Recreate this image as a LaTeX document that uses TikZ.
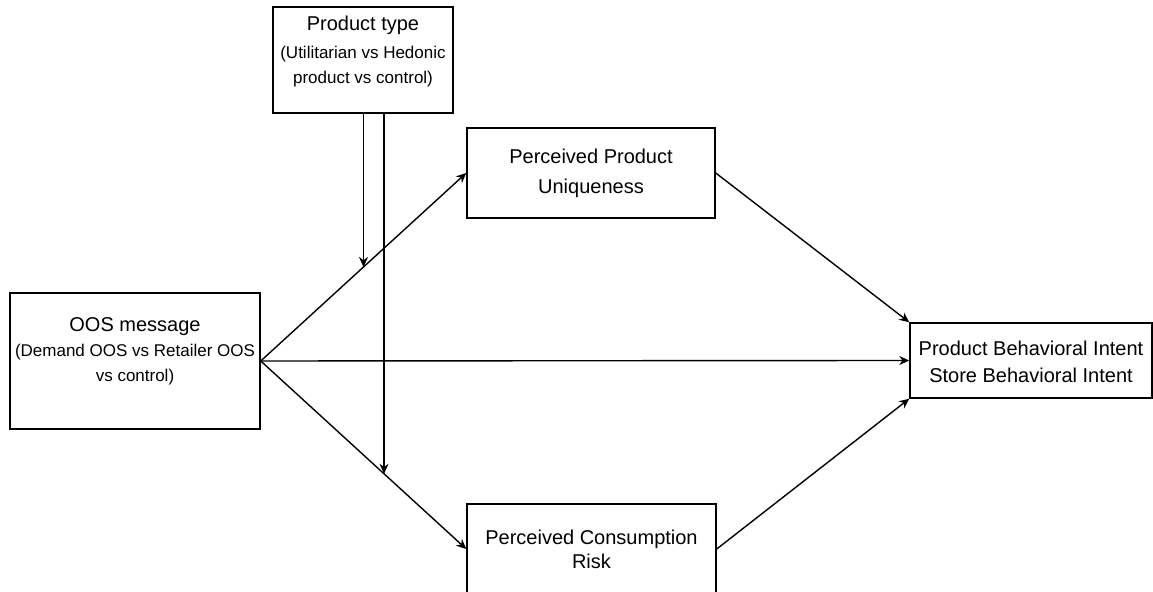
\documentclass[tikz,border=0pt]{standalone}
\usepackage{fontspec}
\setmainfont{Liberation Sans}
\usetikzlibrary{arrows.meta, positioning, calc}
\newcommand{\subsize}{\fontsize{8.5}{12.5}\selectfont}
\newcommand{\mainsize}{\fontsize{10}{15}\selectfont}
\newcommand{\lifted}[2]{\raisebox{#1}[\height][\depth]{\begin{tabular}{@{}c@{}}#2\end{tabular}}}

\begin{document}
\begin{tikzpicture}[
    x=0.5pt, y=-0.5pt,
    box/.style={draw, line width=0.75pt, align=center, inner sep=0pt, font=\mainsize},
    arrow/.style={-{Stealth[length=5pt, width=4.5pt]}, line width=0.7pt}
]
    \useasboundingbox (0,0) rectangle (1153,592);

    % Factors
    \node[box, minimum width=90pt, minimum height=53pt, font=\subsize] (ptype) at (363,60)
        {\lifted{4pt}{\mainsize Product type\\[1.5pt] (Utilitarian vs Hedonic\\ product vs control)}};
    \node[box, minimum width=125pt, minimum height=68pt, font=\subsize] (oos) at (135,361)
        {\lifted{4.5pt}{\mainsize OOS message\\ (Demand OOS vs Retailer OOS\\ vs control)}};

    % Mediators
    \node[box, minimum width=124pt, minimum height=45pt] (uniq) at (591,173)
        {Perceived Product\\Uniqueness};
    \node[box, minimum width=124.5pt, minimum height=45pt] (risk) at (591.5,549)
        {Perceived Consumption\\[-3pt]Risk};

    % Outcome
    \node[box, minimum width=121pt, minimum height=37.5pt,
        font=\fontsize{10}{13.5}\selectfont] (pbi) at (1031,360.5)
        {\lifted{-1.5pt}{Product Behavioral Intent\\ Store Behavioral Intent}};

    % Arrows
    \draw[arrow] (oos.east) -- (uniq.west);
    \draw[arrow] (oos.east) -- (risk.west);
    \draw[arrow] (oos.east) -- (pbi.west);

    \draw[arrow] (uniq.east) -- (pbi.north west);
    \draw[arrow] (risk.east) -- (pbi.south west);

    % Moderation
    \coordinate (mod1) at ($(oos.east)!0.5!(uniq.west)$);
    \coordinate (mod2) at ($(oos.east)!0.6!(risk.west)$);
    \draw[arrow] (ptype.south -| mod1) -- (mod1);
    \draw[arrow] (ptype.south -| mod2) -- (mod2);
\end{tikzpicture}
\end{document}
